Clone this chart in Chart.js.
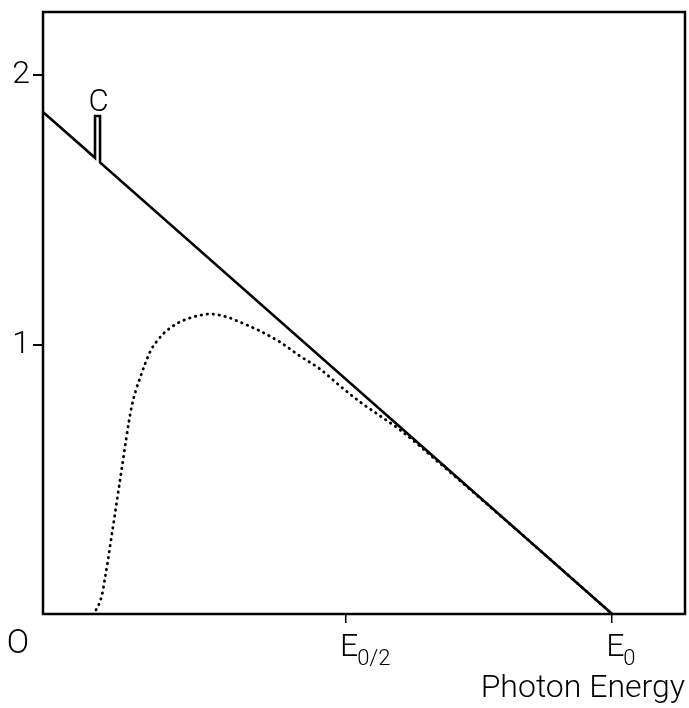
<!DOCTYPE html>
<html>
<head>
<meta charset="utf-8">
<script src="https://cdn.jsdelivr.net/npm/chart.js@4/dist/chart.umd.min.js"></script>
<style>
  html, body { margin: 0; padding: 0; background: #fff; }
  #wrap { width: 689px; height: 708px; }
</style>
</head>
<body>
<div id="wrap"><canvas id="chart" width="689" height="708"></canvas></div>
<script>
// Photon energy spectrum: thin target (solid) vs. filtered (dotted)
// x in units of E0, y in arbitrary intensity units

const lineX = [0, 0.0914, 0.0914, 0.1002, 0.1002, 1.0];
const lineY = [1.863, 1.693, 1.848, 1.848, 1.676, 0];

const dotX = [0.0931, 0.0984, 0.1037, 0.1090, 0.1142, 0.1195, 0.1248, 0.1301, 0.1353, 0.1406,
              0.1459, 0.1511, 0.1564, 0.1634, 0.1705, 0.1793, 0.1898, 0.2004, 0.2109, 0.2232,
              0.2373, 0.2531, 0.2707, 0.2935, 0.3234, 0.3462, 0.3814, 0.4165, 0.4517, 0.4868,
              0.5220, 0.5571, 0.5923, 0.6274, 0.6626, 0.6977, 0.7329, 0.7680, 0.8383, 1.0];
const dotY = [0.015, 0.037, 0.071, 0.134, 0.200, 0.275, 0.349, 0.423, 0.497, 0.571,
              0.646, 0.716, 0.776, 0.831, 0.876, 0.928, 0.980, 1.013, 1.039, 1.061,
              1.080, 1.095, 1.106, 1.113, 1.102, 1.083, 1.050, 1.009, 0.957, 0.909,
              0.846, 0.787, 0.735, 0.683, 0.622, 0.558, 0.494, 0.430, 0.301, 0];

const xTickValues = [0, 0.5325, 1];
const xTickMain = ['O', 'E', 'E'];
const xTickSub = ['', '0/2', '0'];
const yTickValues = [1, 2];
const yTickLabels = ['1', '2'];
const peakLabel = 'C';
const xTitle = 'Photon Energy';

const FONT = "Roboto, 'DejaVu Sans', sans-serif";

const toPoints = (xs, ys) => xs.map((x, i) => ({ x: x, y: ys[i] }));

// box round the plot, tick labels with subscripts, and the C marker
const framePlugin = {
    id: 'frame',
    afterDraw(chart) {
        const { ctx, chartArea } = chart;
        const xs = chart.scales.x;
        const ys = chart.scales.y;
        ctx.save();
        ctx.strokeStyle = '#000';
        ctx.lineWidth = 2.5;
        ctx.strokeRect(chartArea.left, chartArea.top,
            chartArea.right - chartArea.left, chartArea.bottom - chartArea.top);

        ctx.fillStyle = '#000';
        xTickValues.forEach((v, i) => {
            const px = xs.getPixelForValue(v);
            if (xTickSub[i] === '') {
                ctx.font = '300 33px ' + FONT;
                ctx.textAlign = 'center';
                ctx.textBaseline = 'alphabetic';
                ctx.fillText(xTickMain[i], px - 25, 653);
                return;
            }
            ctx.font = '300 32px ' + FONT;
            ctx.textAlign = 'left';
            ctx.textBaseline = 'alphabetic';
            const x0 = px - 6;
            ctx.fillText(xTickMain[i], x0, 656);
            const w = ctx.measureText(xTickMain[i]).width;
            ctx.font = '300 22px ' + FONT;
            ctx.fillText(xTickSub[i], x0 + w - 1, 665);
        });

        // label above the absorption edge spike
        const cx = xs.getPixelForValue((lineX[2] + lineX[3]) / 2);
        const cy = ys.getPixelForValue(lineY[2]);
        ctx.font = '300 31px ' + FONT;
        ctx.textAlign = 'center';
        ctx.textBaseline = 'alphabetic';
        ctx.fillText(peakLabel, cx + 1, cy - 5);
        ctx.restore();
    }
};

new Chart(document.getElementById('chart'), {
    type: 'scatter',
    data: {
        datasets: [
            {
                data: toPoints(dotX, dotY),
                showLine: true,
                borderColor: '#000',
                borderWidth: 2.8,
                borderDash: [0.5, 5.5],
                borderCapStyle: 'round',
                cubicInterpolationMode: 'monotone',
                pointRadius: 0
            },
            {
                data: toPoints(lineX, lineY),
                showLine: true,
                borderColor: '#000',
                borderWidth: 2.6,
                borderJoinStyle: 'miter',
                tension: 0,
                pointRadius: 0
            }
        ]
    },
    options: {
        responsive: false,
        animation: false,
        layout: {
            padding: { top: 12, right: 4, left: 0, bottom: 0 }
        },
        plugins: {
            legend: { display: false },
            tooltip: { enabled: false }
        },
        scales: {
            x: {
                type: 'linear',
                min: 0,
                max: 1.128,
                border: { display: false },
                afterBuildTicks: scale => {
                    scale.ticks = xTickValues.map(v => ({ value: v }));
                },
                afterFit: scale => {
                    scale.height = 94;
                    scale.paddingLeft = 0;
                    scale.paddingRight = 0;
                },
                grid: {
                    drawOnChartArea: false,
                    drawTicks: true,
                    tickLength: 9,
                    lineWidth: 1.5,
                    color: ctx => (ctx.tick && ctx.tick.value === 0) ? 'rgba(0,0,0,0)' : '#000'
                },
                ticks: { display: false },
                title: {
                    display: true,
                    text: xTitle,
                    align: 'end',
                    color: '#000',
                    font: { family: FONT, size: 32, weight: '300' },
                    padding: { top: 0, bottom: 0 }
                }
            },
            y: {
                type: 'linear',
                min: 0,
                max: 2.234,
                border: { display: false },
                afterBuildTicks: scale => {
                    scale.ticks = yTickValues.map(v => ({ value: v }));
                },
                afterFit: scale => {
                    scale.width = 43;
                    scale.paddingTop = 0;
                    scale.paddingBottom = 0;
                },
                grid: {
                    drawOnChartArea: false,
                    drawTicks: true,
                    tickLength: 10,
                    lineWidth: 2,
                    color: '#000'
                },
                ticks: {
                    padding: 3,
                    color: '#000',
                    font: { family: FONT, size: 32, weight: '300' },
                    callback: (v) => {
                        const i = yTickValues.indexOf(v);
                        return i >= 0 ? yTickLabels[i] : '';
                    }
                }
            }
        }
    },
    plugins: [framePlugin]
});
</script>
</body>
</html>
